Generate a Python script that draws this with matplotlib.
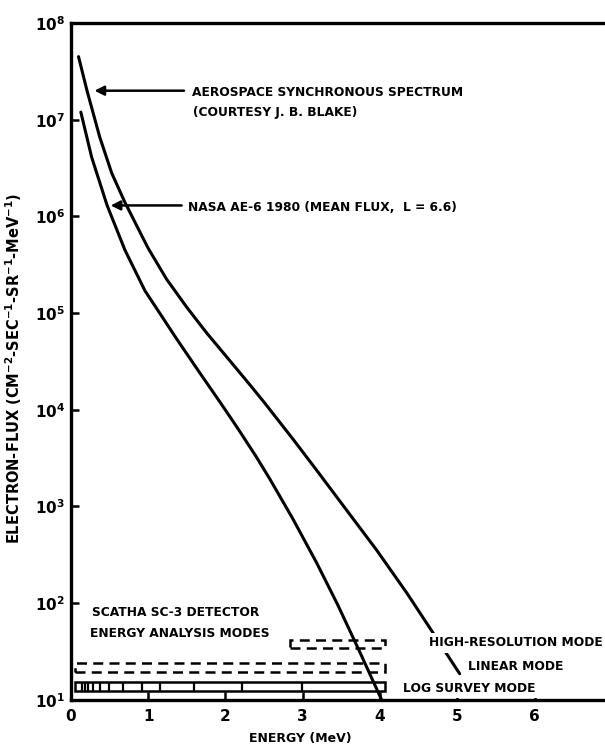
#!/usr/bin/env python3
"""Electron flux spectra vs SCATHA SC-3 energy analysis modes."""

import matplotlib

matplotlib.use("Agg")
import matplotlib.pyplot as plt
from matplotlib.patches import Rectangle

# curves (MeV, electrons/cm2-s-sr-MeV)
AERO_E = [0.10, 0.21, 0.375, 0.53, 0.70, 1.00, 1.24, 1.50, 1.76, 2.06, 2.32, 2.51,
          2.88, 3.18, 3.57, 3.96, 4.35, 4.68, 4.86, 5.03]
AERO_FLUX = [4.5e7, 2.0e7, 6.6e6, 2.8e6, 1.4e6, 4.7e5, 2.24e5, 1.15e5, 6.2e4, 3.2e4,
             1.8e4, 1.17e4, 4.9e3, 2.37e3, 910, 350, 126, 50, 30, 18.6]

NASA_E = [0.13, 0.27, 0.47, 0.70, 0.96, 1.15, 1.37, 1.67, 1.93, 2.15, 2.39, 2.57,
          2.87, 3.18, 3.45, 3.74, 4.02]
NASA_FLUX = [1.2e7, 4.1e6, 1.3e6, 4.5e5, 1.7e5, 1.0e5, 5.4e4, 2.4e4, 1.2e4, 6.6e3,
             3.35e3, 1.95e3, 750, 261, 97, 31, 10]

# detector channel layout
LOG_SURVEY_EDGES = [0.05, 0.14, 0.18, 0.22, 0.29, 0.38, 0.50, 0.67, 0.92,
                    1.15, 1.60, 2.21, 2.99, 4.06]
LOG_BAND = (12.4, 15.3)
LINEAR_SPAN = (0.05, 4.06)
LINEAR_BAND = (19.4, 24.1)
HIGHRES_SPAN = (2.83, 4.06)
HIGHRES_BAND = (34.4, 41.6)

X_TICKS = [0, 1, 2, 3, 4, 5, 6]
Y_TICKS = [1e1, 1e2, 1e3, 1e4, 1e5, 1e6, 1e7, 1e8]
Y_TICK_LABELS = [f"10$^{{{k}}}$" for k in range(1, 9)]

plt.rcParams["font.family"] = ["DejaVu Sans"]
plt.rcParams["font.weight"] = "bold"
plt.rcParams["axes.labelweight"] = "bold"
plt.rcParams["mathtext.fontset"] = "custom"
plt.rcParams["mathtext.rm"] = "DejaVu Sans:bold"
plt.rcParams["mathtext.it"] = "DejaVu Sans:bold"
plt.rcParams["mathtext.bf"] = "DejaVu Sans:bold"
plt.rcParams["mathtext.default"] = "rm"

LW = 2.2
FS = 8.8


def main() -> None:
    fig = plt.figure(figsize=(6.05, 7.46), dpi=100)
    ax = fig.add_axes([0.117, 0.062, 0.883, 0.907])

    ax.set_yscale("log")
    ax.set_xlim(0, 6.91)
    ax.set_ylim(10, 1e8)

    ax.plot(AERO_E, AERO_FLUX, color="black", lw=LW, solid_capstyle="round",
            solid_joinstyle="round", zorder=3)
    ax.plot(NASA_E, NASA_FLUX, color="black", lw=LW, solid_capstyle="round",
            solid_joinstyle="round", zorder=3)

    # labels with arrows
    arrow = dict(arrowstyle="-|>", color="black", lw=1.8, mutation_scale=14)
    ax.annotate("", xy=(0.27, 2.0e7), xytext=(1.50, 2.0e7), arrowprops=arrow)
    ax.text(1.57, 1.9e7, "AEROSPACE SYNCHRONOUS SPECTRUM", fontsize=FS, va="center")
    ax.text(1.58, 1.18e7, "(COURTESY J. B. BLAKE)", fontsize=FS, va="center")

    ax.annotate("", xy=(0.48, 1.3e6), xytext=(1.47, 1.3e6), arrowprops=arrow)
    ax.text(1.51, 1.25e6, "NASA AE-6 1980 (MEAN FLUX,  L = 6.6)", fontsize=FS, va="center")

    # detector modes
    ax.text(0.27, 79, "SCATHA SC-3 DETECTOR", fontsize=FS, va="center")
    ax.text(0.25, 49, "ENERGY ANALYSIS MODES", fontsize=FS, va="center")

    lo, hi = LOG_BAND
    ax.add_patch(Rectangle((LOG_SURVEY_EDGES[0], lo), LOG_SURVEY_EDGES[-1] - LOG_SURVEY_EDGES[0],
                           hi - lo, fill=False, lw=1.8, ec="black", zorder=2))
    ax.vlines(LOG_SURVEY_EDGES[1:-1], lo, hi, color="black", lw=1.6, zorder=2)

    lo, hi = LINEAR_BAND
    ax.add_patch(Rectangle((LINEAR_SPAN[0], lo), LINEAR_SPAN[1] - LINEAR_SPAN[0], hi - lo,
                           fill=False, lw=1.8, ec="black", ls=(0, (4, 2.5)), zorder=2))
    lo, hi = HIGHRES_BAND
    ax.add_patch(Rectangle((HIGHRES_SPAN[0], lo), HIGHRES_SPAN[1] - HIGHRES_SPAN[0], hi - lo,
                           fill=False, lw=1.8, ec="black", ls=(0, (4, 2.5)), zorder=2))

    box = dict(facecolor="white", edgecolor="none", pad=2.5)
    ax.text(4.63, 39, "HIGH-RESOLUTION MODE", fontsize=FS, va="center", bbox=box, zorder=4)
    ax.text(5.14, 22, "LINEAR MODE", fontsize=FS, va="center", bbox=box, zorder=4)
    ax.text(4.30, 13.2, "LOG SURVEY MODE", fontsize=FS, va="center", bbox=box, zorder=4)

    # axes styling
    ax.spines["right"].set_visible(False)
    for side in ("left", "top", "bottom"):
        ax.spines[side].set_linewidth(2.4)
    ax.set_xticks(X_TICKS)
    ax.set_xticklabels([str(t) for t in X_TICKS])
    ax.set_yticks(Y_TICKS)
    ax.set_yticklabels(Y_TICK_LABELS)
    ax.minorticks_off()
    ax.tick_params(direction="in", length=6, width=1.8, labelsize=11, pad=4)
    ax.tick_params(axis="x", pad=7)

    ax.set_xlabel("ENERGY (MeV)", fontsize=9)
    ax.xaxis.set_label_coords(0.43, -0.048)
    ax.set_ylabel("ELECTRON-FLUX (CM$^{-2}$-SEC$^{-1}$-SR$^{-1}$-MeV$^{-1}$)", fontsize=10.5)
    ax.yaxis.set_label_coords(-0.088, 0.49)

    fig.savefig("out.png", dpi=100)
    plt.close(fig)


if __name__ == "__main__":
    main()
